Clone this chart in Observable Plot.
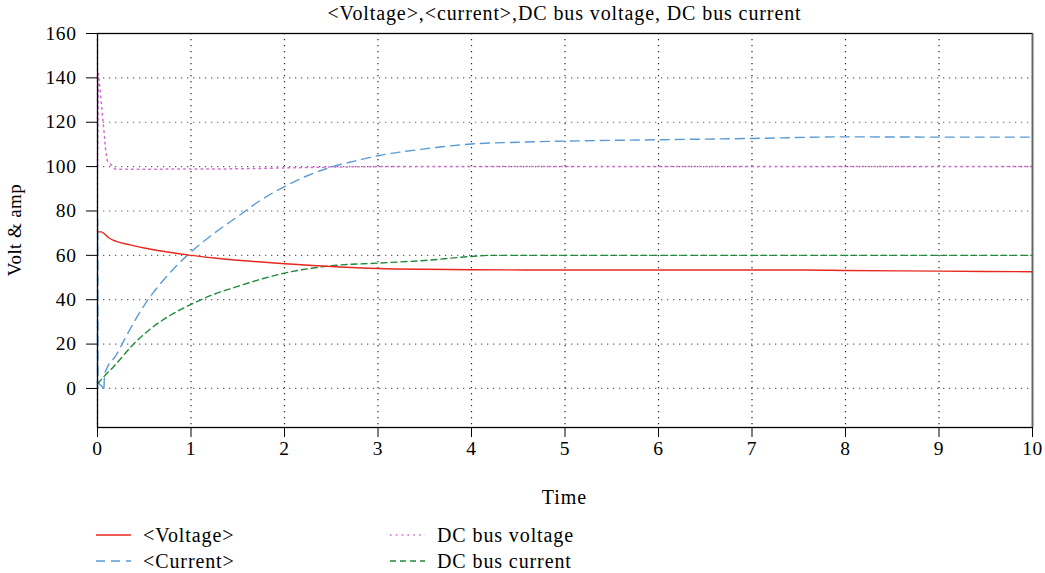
<!DOCTYPE html>
<html>
<head>
<meta charset="utf-8">
<script src="https://cdn.jsdelivr.net/npm/d3@7"></script>
<script src="https://cdn.jsdelivr.net/npm/@observablehq/plot@0.6"></script>
<style>
  body { margin: 0; background: white; font-family: "Liberation Serif", serif; color: #000; }
  #wrap { position: relative; width: 1045px; height: 573px; overflow: hidden; }
  #title { position: absolute; left: 97px; width: 935px; top: 2px; text-align: center; font-size: 20px; letter-spacing: 0.9px; line-height: 22px; }
  #ylab { position: absolute; left: 15px; top: 230px; font-size: 19px; letter-spacing: 0.4px; transform: translate(-50%, -50%) rotate(-90deg); white-space: nowrap; }
  #xlab { position: absolute; left: 97px; width: 935px; top: 485px; text-align: center; font-size: 20px; letter-spacing: 1px; line-height: 24px; }
  #legend { position: absolute; left: 0; top: 0; }
  .item { position: absolute; display: flex; align-items: center; font-size: 20px; letter-spacing: 0.9px; white-space: nowrap; }
  .item svg { margin-right: 12px; }
  #chart { position: absolute; left: 0; top: 0; }
  #chart svg text { letter-spacing: 0.6px; }
</style>
</head>
<body>
<div id="wrap">
  <div id="chart"></div>
  <div id="title"></div>
  <div id="ylab"></div>
  <div id="xlab"></div>
  <div id="legend"></div>
</div>
<script>
// ---- Data ----
const titleText = "<Voltage>,<current>,DC bus voltage, DC bus current";
const xLabel = "Time";
const yLabel = "Volt & amp";
const xTicks = [0, 1, 2, 3, 4, 5, 6, 7, 8, 9, 10];
const yTicks = [0, 20, 40, 60, 80, 100, 120, 140, 160];
const xDomain = [0, 10];
const yDomain = [-17.6, 160];

const seriesNames = ["<Voltage>", "<Current>", "DC bus voltage", "DC bus current"];
const seriesColors = ["#e8281e", "#5b9bd5", "#d36bd3", "#1f8a3b"];
const seriesDash = ["none", "9,6", "1.6,4.2", "6,4"];

// <Voltage>
const voltT = [0, 0.04, 0.08, 0.12, 0.2, 0.35, 0.5, 0.75, 1, 1.25, 1.5, 1.75, 2, 2.5, 3, 3.5, 4, 5, 6, 7, 7.6, 8, 9, 10];
const voltV = [70.6, 70.6, 69.5, 67.9, 66.3, 64.7, 63.3, 61.5, 60, 58.8, 57.8, 57, 56.2, 55, 54.1, 53.7, 53.5, 53.4, 53.4, 53.4, 53.4, 53.2, 52.9, 52.6];

// <Current>
const currT = [0, 0.002, 0.006, 0.06, 0.067, 0.075, 0.1, 0.2, 0.3, 0.5, 0.75, 1, 1.25, 1.5, 1.75, 2, 2.25, 2.5, 2.75, 3, 3.5, 4, 4.5, 5, 6, 7, 8, 9, 10];
const currV = [0, 76, 3, 0, -1, 6, 9, 15, 23, 37.5, 51, 61.5, 70, 77.5, 85, 91, 96, 99.8, 102.5, 104.9, 108, 110.2, 111, 111.5, 112.1, 112.7, 113.4, 113.3, 113.3];

// DC bus voltage
const busVT = [0, 0.01, 0.03, 0.05, 0.067, 0.086, 0.105, 0.19, 1, 1.5, 2, 2.5, 3, 10];
const busVV = [100, 142, 133.6, 124.5, 117, 107.9, 102.6, 98.8, 98.9, 99, 99.4, 99.8, 100, 100];

// DC bus current
const busCT = [0, 0.05, 0.17, 0.39, 0.57, 0.78, 1, 1.25, 1.5, 1.75, 2, 2.5, 3, 3.5, 4, 4.2, 10];
const busCV = [2, 4.5, 9.7, 20.2, 27, 33, 37.9, 42.5, 46, 49.3, 52, 55.3, 56.5, 57.7, 59.5, 60, 60];

// ---- Build tables ----
const toRows = (ts, vs) => ts.map((t, i) => ({t, v: vs[i]}));
const series = [
  toRows(voltT, voltV),
  toRows(currT, currV),
  toRows(busVT, busVV),
  toRows(busCT, busCV)
];

const gridDash = "1.3,4.7";

const chart = Plot.plot({
  width: 1045,
  height: 480,
  marginLeft: 97,
  marginRight: 13,
  marginTop: 33,
  marginBottom: 53,
  style: { fontFamily: "Liberation Serif, serif", fontSize: "19.5px", color: "#000", background: "transparent", overflow: "visible" },
  x: { domain: xDomain },
  y: { domain: yDomain },
  marks: [
    Plot.gridX(xTicks, { stroke: "#000", strokeOpacity: 0.85, strokeDasharray: gridDash, strokeWidth: 1.2 }),
    Plot.gridY(yTicks, { stroke: "#000", strokeOpacity: 0.6, strokeDasharray: gridDash, strokeWidth: 1.2 }),
    Plot.line(series[2], { x: "t", y: "v", stroke: seriesColors[2], strokeDasharray: seriesDash[2], strokeWidth: 1.5 }),
    Plot.line(series[1], { x: "t", y: "v", stroke: seriesColors[1], strokeDasharray: seriesDash[1], strokeWidth: 1.4, curve: "monotone-x" }),
    Plot.line(series[3], { x: "t", y: "v", stroke: seriesColors[3], strokeDasharray: seriesDash[3], strokeWidth: 1.4, curve: "monotone-x" }),
    Plot.line(series[0], { x: "t", y: "v", stroke: seriesColors[0], strokeWidth: 1.4, curve: "monotone-x" }),
    Plot.frame({ stroke: "#000", strokeWidth: 1.3 }),
    Plot.ruleX([xDomain[1]], { stroke: "#666", strokeWidth: 1.6 }),
    Plot.axisX(xTicks, { tickSize: 10, tickPadding: 4, label: null, stroke: "#000" }),
    Plot.axisY(yTicks, { tickSize: 11, tickPadding: 10, label: null, stroke: "#000" })
  ]
});
document.getElementById("chart").appendChild(chart);

document.getElementById("title").textContent = titleText;
document.getElementById("ylab").textContent = yLabel;
document.getElementById("xlab").textContent = xLabel;

// ---- Legend ----
const legendPos = [
  {left: 96, top: 535}, {left: 96, top: 561},
  {left: 390, top: 535}, {left: 390, top: 561}
];
const legend = document.getElementById("legend");
seriesNames.forEach((name, i) => {
  const div = document.createElement("div");
  div.className = "item";
  div.style.left = legendPos[i].left + "px";
  div.style.top = (legendPos[i].top - 12) + "px";
  div.style.height = "24px";
  const ns = "http://www.w3.org/2000/svg";
  const svg = document.createElementNS(ns, "svg");
  svg.setAttribute("width", 35);
  svg.setAttribute("height", 10);
  const ln = document.createElementNS(ns, "line");
  ln.setAttribute("x1", 0); ln.setAttribute("x2", 35);
  ln.setAttribute("y1", 5); ln.setAttribute("y2", 5);
  ln.setAttribute("stroke", seriesColors[i]);
  ln.setAttribute("stroke-width", 1.5);
  if (seriesDash[i] !== "none") ln.setAttribute("stroke-dasharray", seriesDash[i]);
  svg.appendChild(ln);
  div.appendChild(svg);
  const span = document.createElement("span");
  span.textContent = name;
  div.appendChild(span);
  legend.appendChild(div);
});
</script>
</body>
</html>
